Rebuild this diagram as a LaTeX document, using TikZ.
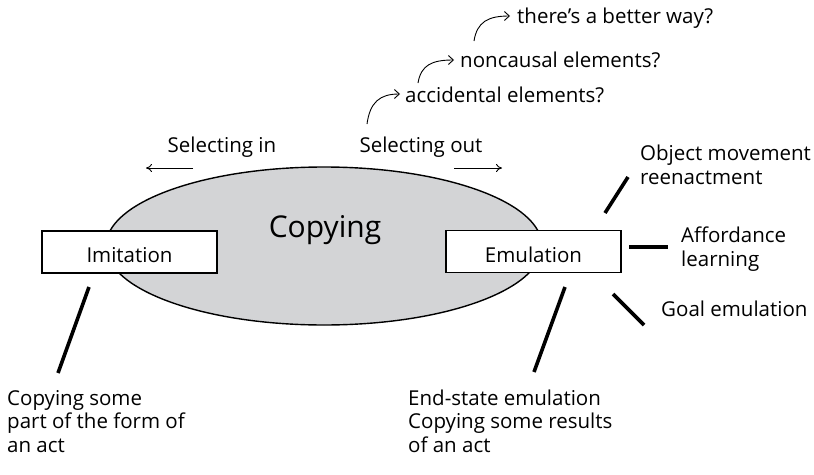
\documentclass[tikz,border=0pt]{standalone}
\usepackage{fontspec}
\setmainfont{Open Sans}
\usetikzlibrary{arrows.meta,shapes.geometric}
\definecolor{copyfill}{RGB}{211,212,214}
\tikzset{
  lbl/.style={font=\fontsize{20.5}{23.5}\selectfont, inner sep=0pt, align=left},
  boxnode/.style={draw, line width=1.8pt, fill=white, minimum width=175pt, minimum height=42pt},
  spoke/.style={line width=3.6pt},
  thinarrow/.style={line width=0.9pt, -{To[length=6pt,width=8pt]}},
  bentarrow/.style={line width=0.9pt, -{Straight Barb[length=5pt,width=9pt]}},
}
\begin{document}
\begin{tikzpicture}[x=1pt,y=-1pt]
\useasboundingbox (0,0) rectangle (814,474);

% central region
\node[ellipse, draw, line width=1.4pt, fill=copyfill, minimum width=436pt, minimum height=158pt, inner sep=0pt] (copy) at (324,246) {};
\node[font=\fontsize{30}{36}\selectfont, inner sep=0pt, anchor=base] (copytxt) at (325,237) {Copying};

% the two kinds of copying
\node[boxnode] (imit) at (129.5,252) {};
\node[lbl, anchor=base] (imittxt) at (imit.center |- 0,262) {Imitation};
\node[boxnode] (emul) at (533.5,251.5) {};
\node[lbl, anchor=base] (emultxt) at (emul.center |- 0,262) {Emulation};

% selecting in / out
\node[lbl, anchor=base] (selin) at (222,152) {Selecting in};
\node[lbl, anchor=base] (selout) at (421,152) {Selecting out};
\coordinate (sinA) at (193,168);
\coordinate (sinB) at (146,168);
\coordinate (soutA) at (454,168);
\coordinate (soutB) at (502,168);
\draw[thinarrow] (sinA) -- (sinB);
\draw[thinarrow] (soutA) -- (soutB);

% escalating questions
\node[lbl, anchor=base west] (q1) at (405,102) {accidental elements?};
\node[lbl, anchor=base west] (q2) at (460,67) {noncausal elements?};
\node[lbl, anchor=base west] (q3) at (517,23) {there’s a better way?};
\coordinate (a1) at (367,124);
\coordinate (a2) at (418,83);
\coordinate (a3) at (474,41);
\coordinate (t1) at (400,94);
\coordinate (t2) at (454,60);
\coordinate (t3) at (510,16);
\draw[bentarrow] (a1) .. controls (370,102) and (380,94) .. (t1);
\draw[bentarrow] (a2) .. controls (421,65) and (432,60) .. (t2);
\draw[bentarrow] (a3) .. controls (477,22) and (488,16) .. (t3);

% outcome labels (base = baseline of the last line)
\node[lbl, anchor=base west] (objmov) at (640,184) {Object movement\\reenactment};
\node[lbl, anchor=base west] (afford) at (681,266) {Affordance\\learning};
\node[lbl, anchor=base west] (goal) at (661,316) {Goal emulation};
\node[lbl, anchor=base west] (endst) at (408,452) {End-state emulation\\Copying some results\\of an act};
\node[lbl, anchor=base west] (formact) at (7,452) {Copying some\\part of the form of\\an act};

% spokes
\coordinate (s1a) at (605,213); \coordinate (s1b) at (628,177);
\coordinate (s2a) at (629,247); \coordinate (s2b) at (668,247);
\coordinate (s3a) at (613,294); \coordinate (s3b) at (644,325);
\coordinate (s4a) at (565,287); \coordinate (s4b) at (534,372);
\coordinate (s5a) at (89,287);  \coordinate (s5b) at (58,373);
\draw[spoke] (s1a) -- (s1b);
\draw[spoke] (s2a) -- (s2b);
\draw[spoke] (s3a) -- (s3b);
\draw[spoke] (s4a) -- (s4b);
\draw[spoke] (s5a) -- (s5b);
\end{tikzpicture}
\end{document}
